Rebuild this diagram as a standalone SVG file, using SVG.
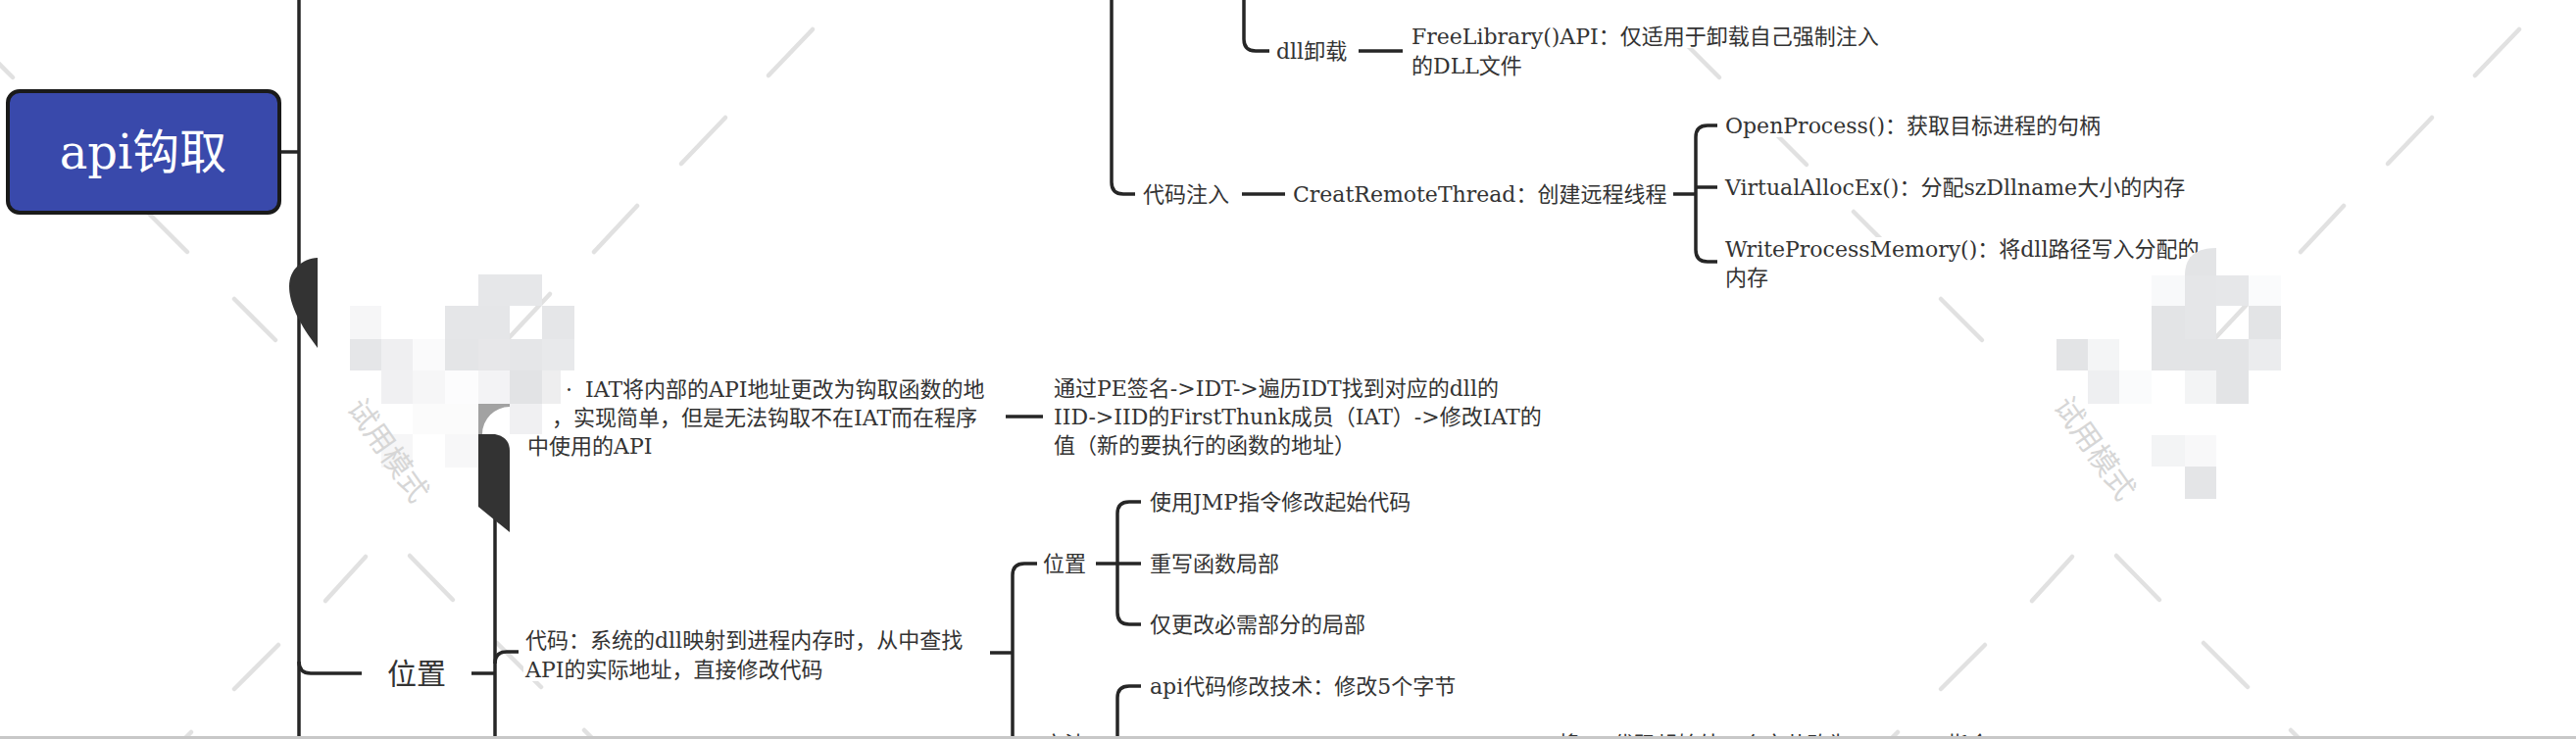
<svg xmlns="http://www.w3.org/2000/svg" width="2628" height="754" viewBox="0 0 2628 754">
<style>
.t{font-family:'DejaVu Serif','Noto Sans CJK SC',serif;font-size:22px;fill:#333}
.tb{font-family:'DejaVu Serif','Noto Sans CJK SC',serif;font-size:30px;fill:#333}
.root{font-family:'DejaVu Serif','Noto Sans CJK SC',serif;font-size:48px;fill:#ffffff}
.c{fill:none;stroke:#262626;stroke-width:3.5}
.bg{fill:#ffffff}
.wl{stroke:#e1e1e1;stroke-width:4.5;stroke-linecap:round}
.wt{font-family:'Noto Sans CJK SC',sans-serif;font-size:30px;fill:#d6d6d6}
.blob{fill:#333333}
</style>
<defs>
<g id="wmLines">
<line class="wl" x1="-28" y1="38" x2="13" y2="79"/>
<line class="wl" x1="61" y1="127" x2="102" y2="168"/>
<line class="wl" x1="150" y1="216" x2="191" y2="257"/>
<line class="wl" x1="239" y1="305" x2="281" y2="347"/>
<line class="wl" x1="829" y1="30" x2="784" y2="77"/>
<line class="wl" x1="740" y1="120" x2="695" y2="167"/>
<line class="wl" x1="650" y1="210" x2="606" y2="257"/>
<line class="wl" x1="561" y1="300" x2="517" y2="347"/>
<line class="wl" x1="373" y1="568" x2="332" y2="613"/>
<line class="wl" x1="284" y1="658" x2="239" y2="703"/>
<line class="wl" x1="195" y1="747" x2="150" y2="792"/>
<line class="wl" x1="418" y1="567" x2="462" y2="612"/>
<line class="wl" x1="507" y1="656" x2="552" y2="701"/>
<line class="wl" x1="596" y1="745" x2="641" y2="790"/>
</g>
</defs>
<rect x="0" y="0" width="2628" height="754" fill="#ffffff"/>
<g id="watermark-lines">
<use href="#wmLines"/>
<use href="#wmLines" transform="translate(1741,0)"/>
</g>
<g id="connectors">
<path class="c" d="M285,155 H305"/>
<path class="c" d="M305,0 V754"/>
<path class="c" d="M305,675 Q305,687 317,687 H369"/>
<path class="c" d="M481,687 H505"/>
<path class="c" d="M505,455 V754"/>
<path class="c" d="M505,677 Q505,665 517,665 H529"/>
<path class="c" d="M1026,425 H1064"/>
<path class="c" d="M1010,666 H1033"/>
<path class="c" d="M1058,575 H1045 Q1033,575 1033,587 V750 Q1033,762 1045,762 H1058"/>
<path class="c" d="M1118,575 H1164"/>
<path class="c" d="M1164,512 H1152 Q1140,512 1140,524 V625 Q1140,637 1152,637 H1164"/>
<path class="c" d="M1164,700 H1152 Q1140,700 1140,712 V760"/>
<path class="c" d="M1134,0 V186 Q1134,198 1146,198 H1158"/>
<path class="c" d="M1269,0 V40 Q1269,52 1281,52 H1295"/>
<path class="c" d="M1386,52 H1431"/>
<path class="c" d="M1267,198 H1311"/>
<path class="c" d="M1707,198 H1730"/>
<path class="c" d="M1752,128 H1742 Q1730,128 1730,140 V255 Q1730,267 1742,267 H1752"/>
<path class="c" d="M1730,191 H1752"/>
</g>
<g id="node-root">
<rect x="8" y="93" width="277" height="124" rx="12" fill="#3949ab" stroke="#1a1a1a" stroke-width="4"/>
<text class="root" x="146" y="172" text-anchor="middle">api钩取</text>
</g>
<g id="node-dll-unload">
<rect class="bg" x="1300" y="40" width="79" height="24"/>
<text class="t" x="1302" y="60">dll卸载</text>
</g>
<g id="node-freelibrary">
<rect class="bg" x="1438" y="25" width="487" height="24"/>
<rect class="bg" x="1438" y="55" width="110" height="24"/>
<text class="t" x="1440" y="45">FreeLibrary()API：仅适用于卸载自己强制注入</text>
<text class="t" x="1440" y="75">的DLL文件</text>
</g>
<g id="node-code-inject">
<rect class="bg" x="1164" y="186" width="96" height="24"/>
<text class="t" x="1166" y="206">代码注入</text>
</g>
<g id="node-createremotethread">
<rect class="bg" x="1317" y="186" width="386" height="24"/>
<text class="t" x="1319" y="206">CreatRemoteThread：创建远程线程</text>
</g>
<g id="node-openprocess">
<rect class="bg" x="1758" y="116" width="390" height="24"/>
<text class="t" x="1760" y="136">OpenProcess()：获取目标进程的句柄</text>
</g>
<g id="node-virtualallocex">
<rect class="bg" x="1758" y="179" width="480" height="24"/>
<text class="t" x="1760" y="199">VirtualAllocEx()：分配szDllname大小的内存</text>
</g>
<g id="node-writeprocessmemory">
<rect class="bg" x="1758" y="242" width="494" height="24"/>
<rect class="bg" x="1758" y="271" width="50" height="24"/>
<text class="t" x="1760" y="262">WriteProcessMemory()：将dll路径写入分配的</text>
<text class="t" x="1760" y="291">内存</text>
</g>
<g id="node-iat">
<rect class="bg" x="536" y="385" width="482" height="24"/>
<rect class="bg" x="536" y="414" width="474" height="24"/>
<rect class="bg" x="536" y="443" width="134" height="24"/>
<text class="t" y="405"><tspan x="577">·</tspan><tspan x="597">IAT将内部的API地址更改为钩取函数的地</tspan></text>
<text class="t" x="563" y="434">，实现简单，但是无法钩取不在IAT而在程序</text>
<text class="t" x="538" y="463">中使用的API</text>
</g>
<g id="node-iat-method">
<rect class="bg" x="1073" y="384" width="455" height="24"/>
<rect class="bg" x="1073" y="413" width="496" height="24"/>
<rect class="bg" x="1073" y="442" width="314" height="24"/>
<text class="t" x="1075" y="404">通过PE签名-&gt;IDT-&gt;遍历IDT找到对应的dll的</text>
<text class="t" x="1075" y="433">IID-&gt;IID的FirstThunk成员（IAT）-&gt;修改IAT的</text>
<text class="t" x="1075" y="462">值（新的要执行的函数的地址）</text>
</g>
<g id="node-position-main">
<rect class="bg" x="392" y="671" width="66" height="32"/>
<text class="tb" x="395" y="698">位置</text>
</g>
<g id="node-code">
<rect class="bg" x="534" y="641" width="468" height="24"/>
<rect class="bg" x="534" y="671" width="318" height="24"/>
<text class="t" x="536" y="661">代码：系统的dll映射到进程内存时，从中查找</text>
<text class="t" x="536" y="691">API的实际地址，直接修改代码</text>
</g>
<g id="node-position-sub">
<rect class="bg" x="1062" y="563" width="50" height="24"/>
<text class="t" x="1064" y="583">位置</text>
</g>
<g id="node-jmp">
<rect class="bg" x="1171" y="500" width="274" height="24"/>
<text class="t" x="1173" y="520">使用JMP指令修改起始代码</text>
</g>
<g id="node-rewrite">
<rect class="bg" x="1171" y="563" width="140" height="24"/>
<text class="t" x="1173" y="583">重写函数局部</text>
</g>
<g id="node-partial">
<rect class="bg" x="1171" y="625" width="231" height="24"/>
<text class="t" x="1173" y="645">仅更改必需部分的局部</text>
</g>
<g id="node-api-modify">
<rect class="bg" x="1171" y="688" width="323" height="24"/>
<text class="t" x="1173" y="708">api代码修改技术：修改5个字节</text>
</g>
<g id="node-method">
<text class="t" x="1064" y="767">方法</text>
</g>
<g id="node-cut">
<text class="t" x="1589" y="767">将api代码起始处五个字节改为xxxxxxxx指令</text>
</g>
<g id="mosaic-left">
<rect x="488" y="280" width="32" height="32" fill="#e6e7e9"/>
<rect x="520" y="280" width="33" height="32" fill="#e6e7e9"/>
<rect x="357" y="312" width="32" height="34" fill="#f6f6f7"/>
<rect x="454" y="312" width="34" height="34" fill="#e5e6e8"/>
<rect x="488" y="312" width="32" height="34" fill="#e5e6e8"/>
<rect x="553" y="312" width="33" height="34" fill="#e5e6e8"/>
<rect x="357" y="346" width="32" height="32" fill="#e5e6e8"/>
<rect x="389" y="346" width="32" height="32" fill="#efeff1"/>
<rect x="421" y="346" width="33" height="32" fill="#fafafb"/>
<rect x="454" y="346" width="34" height="32" fill="#e4e5e7"/>
<rect x="488" y="346" width="32" height="32" fill="#e7e7e9"/>
<rect x="520" y="346" width="33" height="32" fill="#e5e6e8"/>
<rect x="553" y="346" width="33" height="32" fill="#e8e9eb"/>
<rect x="389" y="378" width="32" height="34" fill="#f0f0f2"/>
<rect x="421" y="378" width="33" height="34" fill="#f6f6f7"/>
<rect x="454" y="378" width="34" height="34" fill="#fcfcfd"/>
<rect x="488" y="378" width="32" height="34" fill="#f3f3f5"/>
<rect x="520" y="378" width="33" height="34" fill="#e2e3e5"/>
<rect x="553" y="378" width="19" height="34" fill="#eeeeef"/>
<rect x="421" y="412" width="33" height="31" fill="#fbfbfb"/>
<rect x="454" y="412" width="34" height="31" fill="#fbfbfb"/>
<rect x="520" y="412" width="33" height="31" fill="#f0f0f2"/>
<rect x="389" y="443" width="32" height="34" fill="#f6f6f7"/>
<rect x="454" y="443" width="34" height="34" fill="#f7f7f8"/>
<path d="M488,412 L520,412 L520,415 A28,28 0 0 0 492,443 L488,443 Z" fill="#a2a2a2"/>
</g>
<g id="mosaic-right">
<path d="M2229,281 Q2229,253 2261,253 L2261,281 Z" fill="#e3e4e6"/>
<rect x="2195" y="281" width="34" height="31" fill="#f8f9fa"/>
<rect x="2229" y="281" width="32" height="31" fill="#e5e6e8"/>
<rect x="2261" y="281" width="33" height="31" fill="#e6e7e9"/>
<rect x="2294" y="281" width="33" height="31" fill="#fafbfc"/>
<rect x="2195" y="312" width="34" height="34" fill="#e3e4e6"/>
<rect x="2229" y="312" width="32" height="34" fill="#e5e6e8"/>
<rect x="2294" y="312" width="33" height="34" fill="#e3e4e6"/>
<rect x="2098" y="346" width="32" height="32" fill="#e3e4e6"/>
<rect x="2130" y="346" width="32" height="32" fill="#f4f5f6"/>
<rect x="2195" y="346" width="34" height="32" fill="#e3e4e6"/>
<rect x="2229" y="346" width="32" height="32" fill="#e3e4e6"/>
<rect x="2261" y="346" width="33" height="32" fill="#e3e4e6"/>
<rect x="2294" y="346" width="33" height="32" fill="#ebecee"/>
<rect x="2130" y="378" width="32" height="34" fill="#eeeff1"/>
<rect x="2162" y="378" width="33" height="34" fill="#fafbfc"/>
<rect x="2229" y="378" width="32" height="34" fill="#f3f4f5"/>
<rect x="2261" y="378" width="33" height="34" fill="#e3e4e6"/>
<rect x="2195" y="444" width="34" height="32" fill="#f3f4f5"/>
<rect x="2229" y="444" width="32" height="32" fill="#f8f8f9"/>
<rect x="2229" y="476" width="32" height="33" fill="#e4e5e7"/>
</g>
<g id="tabs">
<path class="blob" d="M324,263 C308,264 295,275 295,292 C295,310 305,330 324,355 Z"/>
<path class="blob" d="M488,443 L505,443 Q520,446 520,460 L520,543 L488,517 Z"/>
</g>
<g id="watermark-text">
<text class="wt" x="398" y="458" text-anchor="middle" dominant-baseline="central" transform="rotate(55 398 458)">试用模式</text>
<text class="wt" x="2139" y="456" text-anchor="middle" dominant-baseline="central" transform="rotate(55 2139 456)">试用模式</text>
</g>
<rect id="bottom-band" x="0" y="751" width="2628" height="3" fill="#c8c8c8"/>
</svg>
